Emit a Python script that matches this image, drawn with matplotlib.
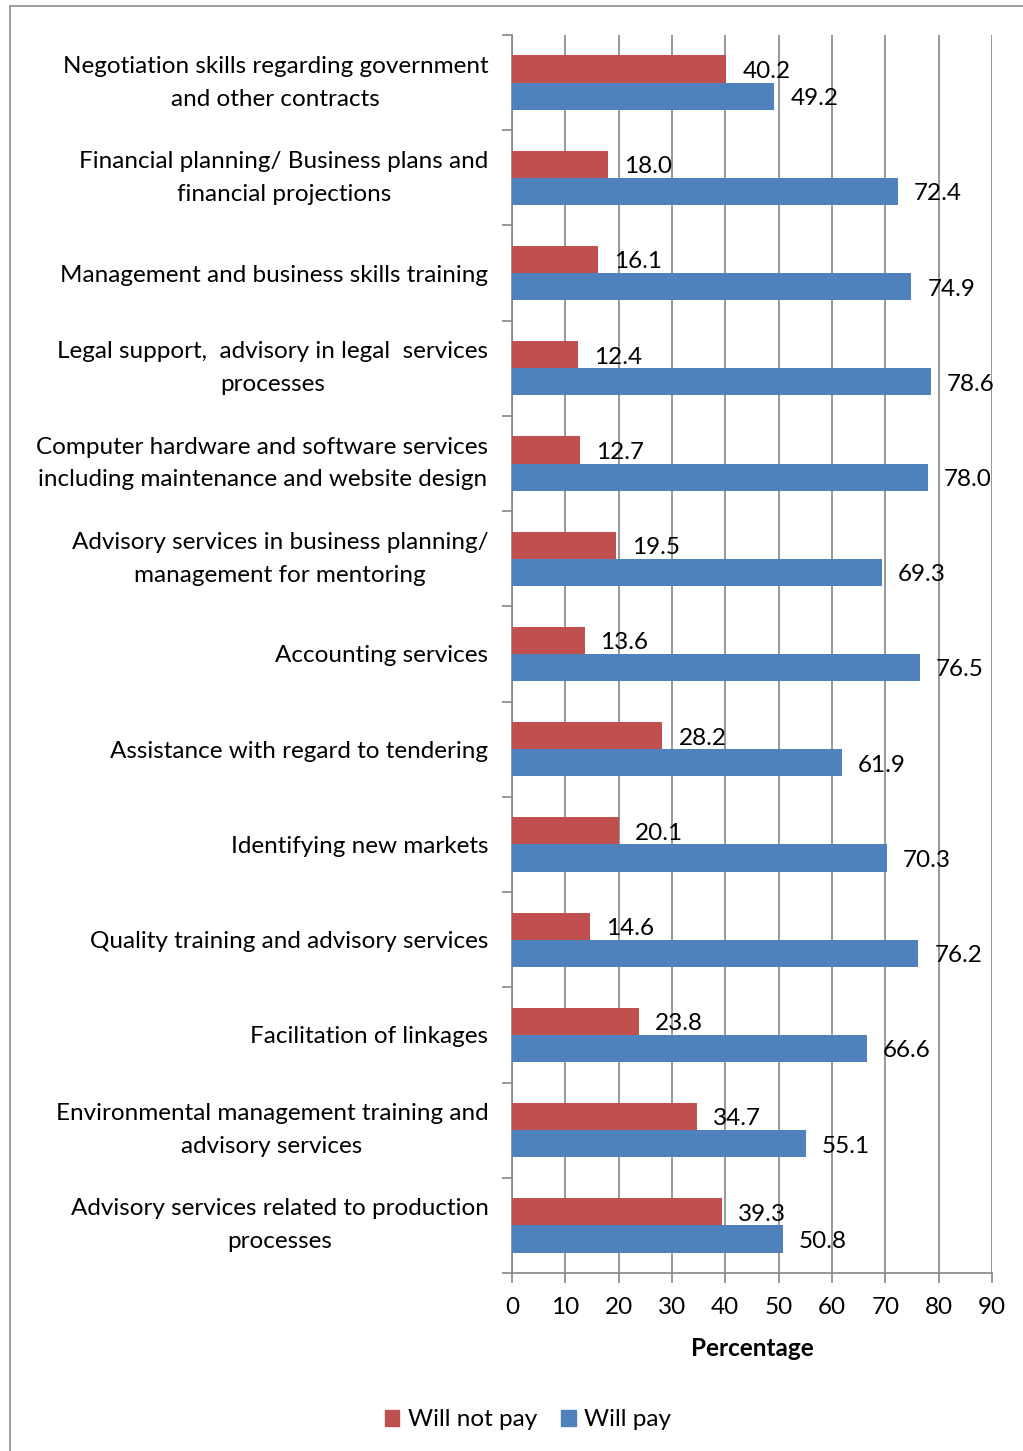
import matplotlib
matplotlib.use("Agg")
import matplotlib.pyplot as plt
from matplotlib.patches import Rectangle, Patch
import numpy as np

categories = [
    "Negotiation skills regarding government\nand other contracts",
    "Financial planning/ Business plans and\nfinancial projections",
    "Management and business skills training",
    "Legal support,  advisory in legal  services\nprocesses",
    "Computer hardware and software services\nincluding maintenance and website design",
    "Advisory services in business planning/\nmanagement for mentoring",
    "Accounting services",
    "Assistance with regard to tendering",
    "Identifying new markets",
    "Quality training and advisory services",
    "Facilitation of linkages",
    "Environmental management training and\nadvisory services",
    "Advisory services related to production\nprocesses",
]
will_not_pay = [40.2, 18.0, 16.1, 12.4, 12.7, 19.5, 13.6, 28.2, 20.1, 14.6, 23.8, 34.7, 39.3]
will_pay = [49.2, 72.4, 74.9, 78.6, 78.0, 69.3, 76.5, 61.9, 70.3, 76.2, 66.6, 55.1, 50.8]
x_ticks = [0, 10, 20, 30, 40, 50, 60, 70, 80, 90]

RED = "#C0504D"
BLUE = "#4F81BD"
GRID = "#868686"
FONT = ["Lato", "DejaVu Sans"]
FS = 17.5

plt.rcParams["font.family"] = FONT

W, H = 1023, 1451
fig = plt.figure(figsize=(W / 100, H / 100), dpi=100)

# outer chart frame
fig.patches.append(Rectangle((10 / W, -0.01), 1.05, (H - 6) / H + 0.01,
                             transform=fig.transFigure, fill=False,
                             edgecolor="#8c8c8c", linewidth=1.2))

ax = fig.add_axes([512 / W, 1 - 1273 / H, 480 / W, (1273 - 35) / H])

n = len(categories)
pos = np.arange(n)
bh = 0.285
ax.barh(pos - bh / 2, will_not_pay, height=bh, color=RED, label="Will not pay", zorder=3)
ax.barh(pos + bh / 2, will_pay, height=bh, color=BLUE, label="Will pay", zorder=3)

off = 3.0
dy = 0.025
for i in range(n):
    ax.text(will_not_pay[i] + off, pos[i] - bh / 2 + dy, f"{will_not_pay[i]:.1f}",
            va="center", ha="left", fontsize=FS, zorder=4)
    ax.text(will_pay[i] + off, pos[i] + bh / 2 + dy, f"{will_pay[i]:.1f}",
            va="center", ha="left", fontsize=FS, zorder=4)

ax.set_ylim(n - 0.5, -0.5)
ax.set_xlim(0, 90)
ax.set_xticks(x_ticks)
ax.set_xticklabels([str(t) for t in x_ticks], fontsize=FS)
ax.xaxis.grid(True, color=GRID, linewidth=1.2, zorder=0)

# category boundaries as y ticks, labels at centers
ax.set_yticks(np.arange(n + 1) - 0.5)
ax.set_yticklabels([])
ax.set_yticks(pos, minor=True)
ax.set_yticklabels(categories, minor=True, fontsize=FS, multialignment="center",
                   linespacing=1.7)
for lbl in ax.get_yticklabels(minor=True):
    if "\n" in lbl.get_text():
        lbl.set_verticalalignment("center")
ax.tick_params(axis="y", which="minor", length=0, pad=17)
ax.tick_params(axis="y", which="major", length=7, color=GRID, width=1.2)
ax.tick_params(axis="x", length=7, color=GRID, width=1.2, pad=10)

for s in ("top", "right"):
    ax.spines[s].set_visible(False)
for s in ("left", "bottom"):
    ax.spines[s].set_color(GRID)
    ax.spines[s].set_linewidth(1.2)

ax.set_xlabel("Percentage", fontsize=FS, fontweight="bold", labelpad=14)

handles = [Patch(color=RED, label="Will not pay"), Patch(color=BLUE, label="Will pay")]
fig.legend(handles=handles, loc="center", bbox_to_anchor=(528 / W, 1 - 1420 / H),
           ncol=2, frameon=False, fontsize=FS, handlelength=0.6, handleheight=0.6,
           handletextpad=0.35, columnspacing=1.0)

fig.savefig("out.png", dpi=100)
